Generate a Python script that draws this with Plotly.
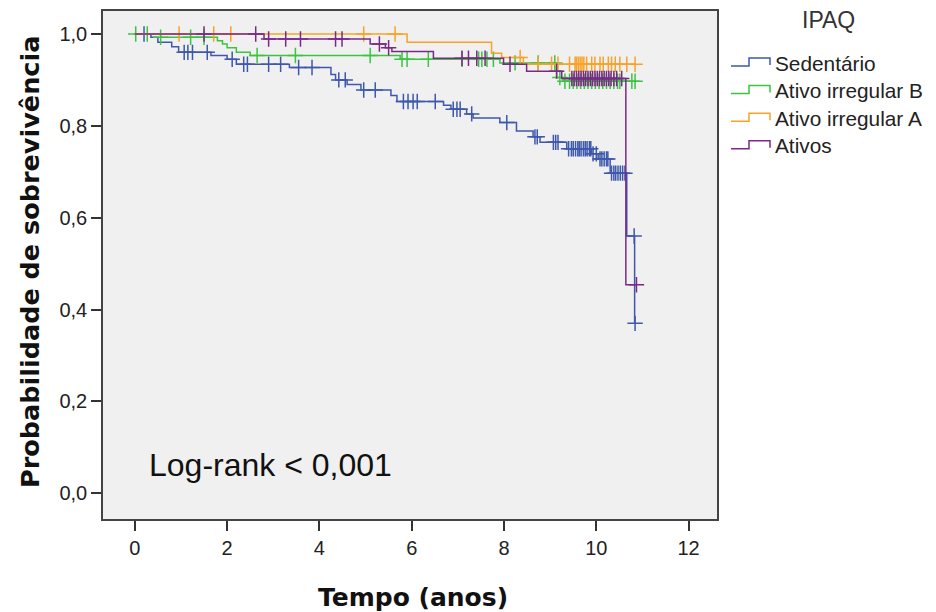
import numpy as np
import plotly.graph_objects as go

# ---------------- data ----------------
groups = ["Sedentário", "Ativo irregular B", "Ativo irregular A", "Ativos"]
colors = ["#3e58ac", "#3cc440", "#f7a229", "#7a2a86"]
legend_title = "IPAQ"

sed_event_t = [0.35, 0.50, 0.80, 0.95, 1.65, 2.0, 2.2, 3.35, 4.25, 4.35, 4.6, 4.9, 5.55, 5.68,
               6.69, 6.85, 7.19, 7.33, 7.91, 8.27, 8.63, 8.78, 9.36, 9.9, 10.04, 10.3, 10.66, 10.83]
sed_event_s = [0.993, 0.982, 0.972, 0.960, 0.953, 0.945, 0.934, 0.927, 0.912, 0.900, 0.890, 0.878,
               0.866, 0.853, 0.845, 0.836, 0.826, 0.817, 0.807, 0.789, 0.776, 0.764, 0.750, 0.739,
               0.728, 0.697, 0.560, 0.370]
sed_censor = [0.2, 1.07, 1.15, 1.25, 1.57, 2.11, 2.36, 2.44, 2.9, 3.16, 3.55, 3.84, 4.42, 4.56,
              4.96, 5.21, 5.82, 5.92, 6.03, 6.12, 6.51, 6.9, 6.98, 7.05, 7.3, 8.06, 8.67, 8.72,
              9.07, 9.12, 9.17, 9.4, 9.46, 9.5, 9.55, 9.6, 9.63, 9.67, 9.72, 9.76, 9.8, 9.85, 9.88,
              9.93, 10.0, 10.08, 10.12, 10.17, 10.22, 10.25, 10.33, 10.38, 10.42, 10.47, 10.52,
              10.57, 10.62, 10.82, 10.84]

b_event_t = [0.56, 1.79, 1.9, 2.0, 2.2, 2.5, 5.75, 7.91, 9.14, 9.28]
b_event_s = [0.993, 0.985, 0.978, 0.970, 0.960, 0.953, 0.945, 0.937, 0.905, 0.897]
b_censor = [0.02, 0.27, 0.56, 1.21, 1.5, 2.65, 3.48, 5.1, 5.79, 5.9, 6.36, 7.09, 7.45, 7.52,
            7.63, 7.77, 8.24, 8.74, 9.1, 9.21, 9.32, 9.42, 9.5, 9.58, 9.66, 9.74, 9.82, 9.9,
            9.98, 10.06, 10.14, 10.22, 10.3, 10.38, 10.46, 10.51, 10.77, 10.84]

a_event_t = [5.9, 7.73, 7.95, 8.42]
a_event_s = [0.982, 0.958, 0.949, 0.934]
a_censor = [0.96, 1.71, 2.08, 4.96, 5.64, 8.35, 8.74, 9.03, 9.17, 9.42, 9.54, 9.57, 9.61, 9.65,
            9.69, 9.73, 9.79, 9.9, 9.97, 10.08, 10.15, 10.26, 10.33, 10.41, 10.51, 10.66, 10.84]

atv_event_t = [2.8, 5.1, 5.43, 5.57, 6.47, 7.99, 8.49, 9.25, 10.64]
atv_event_s = [0.989, 0.978, 0.970, 0.962, 0.947, 0.934, 0.919, 0.903, 0.454]
atv_censor = [1.5, 2.62, 2.9, 3.27, 3.59, 4.35, 4.49, 5.3, 5.5, 7.09, 7.23, 7.41, 7.59, 8.13,
              9.14, 9.47, 9.52, 9.57, 9.62, 9.67, 9.72, 9.77, 9.82, 9.87, 9.92, 9.97, 10.02,
              10.07, 10.12, 10.17, 10.22, 10.27, 10.32, 10.38, 10.44, 10.55, 10.87]

y_tickvals = [0.0, 0.2, 0.4, 0.6, 0.8, 1.0]
y_ticktext = ["0,0", "0,2", "0,4", "0,6", "0,8", "1,0"]
x_tickvals = [0, 2, 4, 6, 8, 10, 12]
x_ticktext = ["0", "2", "4", "6", "8", "10", "12"]

series = [
    (sed_event_t, sed_event_s, sed_censor),
    (b_event_t, b_event_s, b_censor),
    (a_event_t, a_event_s, a_censor),
    (atv_event_t, atv_event_s, atv_censor),
]

# ---------------- layout geometry ----------------
W, H = 936, 612
ML, MT, PW, PH = 95, 3, 614, 508          # plot area in figure pixels
MR, MB = W - ML - PW, H - MT - PH
OFF = 8                                    # page body margin


def px2paper(x, y):
    """screen pixel -> paper coords"""
    fx, fy = x - OFF, y - OFF
    return (fx - ML) / PW, (MT + PH - fy) / PH


# ---------------- figure ----------------
fig = go.Figure()

for name, col, (et, es, cens) in zip(groups, colors, series):
    et = np.array(et, dtype=float)
    es = np.array(es, dtype=float)
    cens = np.array(cens, dtype=float)
    t_end = max(cens.max(), et.max())
    xs = np.concatenate([[0.0], et, [t_end]])
    ys = np.concatenate([[1.0], es, [es[-1]]])
    fig.add_trace(go.Scatter(x=xs, y=ys, mode="lines", line=dict(color=col, width=1.5, shape="hv"),
                             name=name, showlegend=False, hoverinfo="skip"))
    idx = np.searchsorted(et, cens, side="right")
    surv_all = np.concatenate([[1.0], es])
    cy = surv_all[idx]
    fig.add_trace(go.Scatter(x=cens, y=cy, mode="markers",
                             marker=dict(symbol="cross-thin", size=11,
                                         line=dict(color=col, width=1.5)),
                             showlegend=False, hoverinfo="skip"))

axis_font = dict(family="Liberation Sans, Arial, sans-serif", size=20, color="#222222")

annotations = [
    dict(text="Log-rank < 0,001", x=2.94, y=0.062, xref="x", yref="y",
         showarrow=False, xanchor="center", yanchor="middle",
         font=dict(family="Liberation Sans, Arial, sans-serif", size=32, color="#111111")),
]
tx, ty = px2paper(413, 597)
annotations.append(dict(text="<b>Tempo (anos)</b>", x=tx, y=ty, xref="paper", yref="paper",
                        showarrow=False, xanchor="center", yanchor="middle",
                        font=dict(family="DejaVu Sans, sans-serif", size=25, color="#111111")))
tx, ty = px2paper(30, 262)
annotations.append(dict(text="<b>Probabilidade de sobrevivência</b>", x=tx, y=ty,
                        xref="paper", yref="paper", textangle=-90,
                        showarrow=False, xanchor="center", yanchor="middle",
                        font=dict(family="DejaVu Sans, sans-serif", size=25.5, color="#111111")))
tx, ty = px2paper(828, 20)
annotations.append(dict(text=legend_title, x=tx, y=ty, xref="paper", yref="paper",
                        showarrow=False, xanchor="center", yanchor="middle",
                        font=dict(family="Liberation Sans, Arial, sans-serif", size=23,
                                  color="#333333")))

# manual legend (step-shaped icons like the original)
shapes = []
legend_y0, legend_dy = 63, 27.6
for i, (name, col) in enumerate(zip(groups, colors)):
    yc = legend_y0 + i * legend_dy
    tx, ty = px2paper(773, yc)
    annotations.append(dict(text=name, x=tx, y=ty, xref="paper", yref="paper",
                            showarrow=False, xanchor="left", yanchor="middle",
                            font=dict(family="Liberation Sans, Arial, sans-serif", size=20.8,
                                      color="#222222")))
    pts = [(731, yc + 3), (749, yc + 3), (749, yc - 5), (770, yc - 5), (770, yc + 2)]
    pp = [px2paper(a, b) for a, b in pts]
    path = "M " + " L ".join(f"{a:.5f},{b:.5f}" for a, b in pp)
    shapes.append(dict(type="path", path=path, xref="paper", yref="paper",
                       line=dict(color=col, width=1.5)))

fig.update_layout(
    width=W, height=H,
    margin=dict(l=ML, r=MR, t=MT, b=MB, autoexpand=False),
    paper_bgcolor="white",
    plot_bgcolor="#f0f0f0",
    showlegend=False,
    xaxis=dict(range=[-0.689, 12.615], tickvals=x_tickvals, ticktext=x_ticktext,
               ticks="outside", ticklen=10, tickwidth=1.5, tickcolor="#333333",
               showgrid=False, zeroline=False, showline=True, linecolor="#444444",
               linewidth=1.5, mirror=True, tickfont=axis_font, automargin=False),
    yaxis=dict(range=[-0.056, 1.05], tickvals=y_tickvals, ticktext=y_ticktext,
               ticks="outside", ticklen=10, tickwidth=1.5, tickcolor="#333333",
               showgrid=False, zeroline=False, showline=True, linecolor="#444444",
               linewidth=1.5, mirror=True, tickfont=axis_font, automargin=False),
    annotations=annotations,
    shapes=shapes,
)

fig.write_html("out.html")
